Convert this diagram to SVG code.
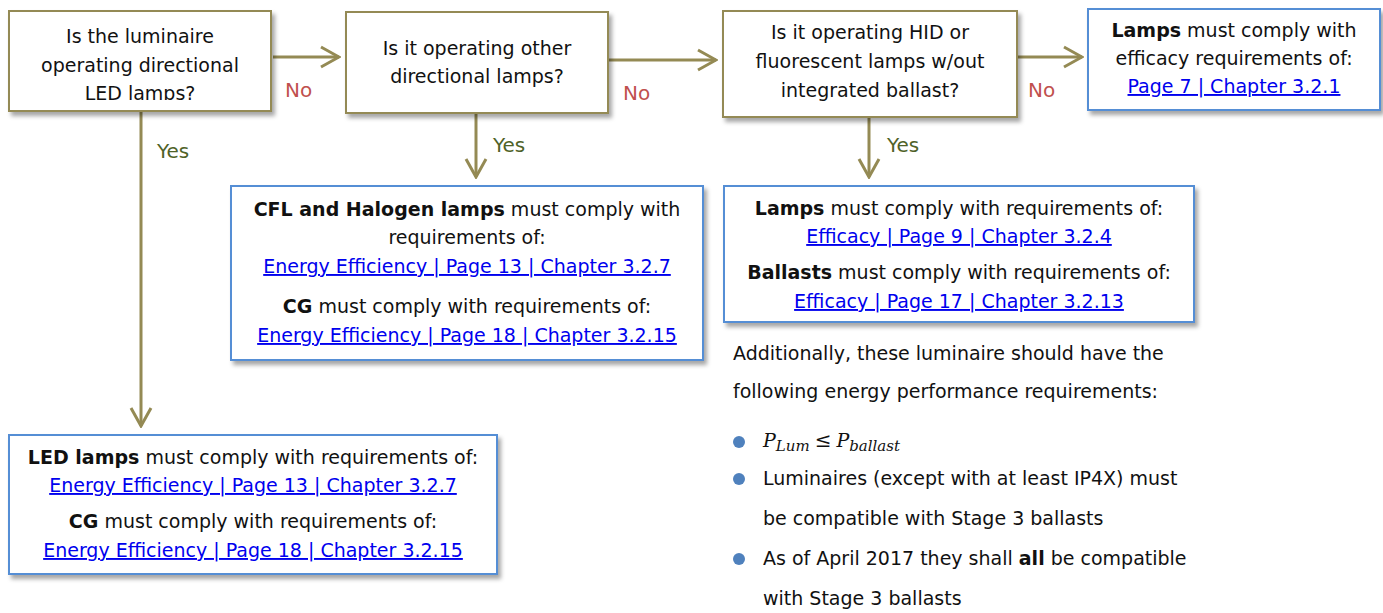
<svg xmlns="http://www.w3.org/2000/svg" width="1383" height="613" viewBox="0 0 1383 613">
  <style>
    text { font-family: "DejaVu Sans", "Liberation Sans", sans-serif; font-size: 19px; fill: #111; }
    .c { text-anchor: middle; }
    .b { font-weight: bold; }
    .link { fill: #0000ee; text-decoration: underline; }
    .q { fill: #fff; stroke: #948a54; stroke-width: 2; filter: url(#shadow); }
    .r { fill: #fff; stroke: #558ed5; stroke-width: 2; filter: url(#shadow); }
    .edge { fill: none; stroke: #948a54; stroke-width: 3; marker-end: url(#chev); }
    .no { fill: #c0504d; font-size: 20px; }
    .yes { fill: #4f6228; font-size: 20px; }
    .math { font-family: "DejaVu Serif", "Liberation Serif", serif; font-style: italic; }
  </style>
  <defs>
    <filter id="shadow" x="-5%" y="-10%" width="115%" height="130%">
      <feDropShadow dx="3" dy="4" stdDeviation="2" flood-color="#000" flood-opacity="0.35"/>
    </filter>
    <marker id="chev" viewBox="-21 -12 23 24" refX="0" refY="0" markerWidth="23" markerHeight="24" markerUnits="userSpaceOnUse" orient="auto">
      <path d="M-18,-10 L0,0 L-18,10" fill="none" stroke="#948a54" stroke-width="3"/>
    </marker>
    <clipPath id="clip1">
      <rect x="9" y="11" width="262" height="89"/>
    </clipPath>
  </defs>

  <!-- connectors -->
  <g id="connectors">
    <path class="edge" d="M273,57 H339"/>
    <path class="edge" d="M608,60 H716"/>
    <path class="edge" d="M1017,57 H1082"/>
    <path class="edge" d="M141,111 V426"/>
    <path class="edge" d="M476,113 V177"/>
    <path class="edge" d="M869,117 V177"/>
    <text class="no" x="285" y="97">No</text>
    <text class="no" x="623" y="100">No</text>
    <text class="no" x="1028" y="97">No</text>
    <text class="yes" x="157" y="158">Yes</text>
    <text class="yes" x="493" y="152">Yes</text>
    <text class="yes" x="887" y="152">Yes</text>
  </g>

  <!-- decision: directional LED -->
  <g id="q-led">
    <rect class="q" x="9" y="11" width="262" height="100"/>
    <g clip-path="url(#clip1)">
      <text class="c" x="140" y="43">Is the luminaire</text>
      <text class="c" x="140" y="72">operating directional</text>
      <text class="c" x="140" y="100">LED lamps?</text>
    </g>
  </g>

  <!-- decision: other directional -->
  <g id="q-other">
    <rect class="q" x="346" y="12" width="262" height="101"/>
    <text class="c" x="477" y="55">Is it operating other</text>
    <text class="c" x="477" y="83">directional lamps?</text>
  </g>

  <!-- decision: HID / fluorescent -->
  <g id="q-hid">
    <rect class="q" x="723" y="11" width="294" height="106"/>
    <text class="c" x="870" y="39">Is it operating HID or</text>
    <text class="c" x="870" y="68">fluorescent lamps w/out</text>
    <text class="c" x="870" y="97">integrated ballast?</text>
  </g>

  <!-- result: lamps efficacy -->
  <g id="r-lamps">
    <rect class="r" x="1088" y="9" width="292" height="101"/>
    <text class="c" x="1234" y="37"><tspan class="b">Lamps</tspan> must comply with</text>
    <text class="c" x="1234" y="65">efficacy requirements of:</text>
    <text class="c link" x="1234" y="93">Page 7 | Chapter 3.2.1</text>
  </g>

  <!-- result: CFL and halogen -->
  <g id="r-cfl">
    <rect class="r" x="231" y="186" width="472" height="174"/>
    <text class="c" x="467" y="216"><tspan class="b">CFL and Halogen lamps</tspan> must comply with</text>
    <text class="c" x="467" y="244">requirements of:</text>
    <text class="c link" x="467" y="273">Energy Efficiency | Page 13 | Chapter 3.2.7</text>
    <text class="c" x="467" y="313"><tspan class="b">CG</tspan> must comply with requirements of:</text>
    <text class="c link" x="467" y="342">Energy Efficiency | Page 18 | Chapter 3.2.15</text>
  </g>

  <!-- result: HID / fluorescent lamps and ballasts -->
  <g id="r-hid">
    <rect class="r" x="724" y="186" width="470" height="136"/>
    <text class="c" x="959" y="215"><tspan class="b">Lamps</tspan> must comply with requirements of:</text>
    <text class="c link" x="959" y="243">Efficacy | Page 9 | Chapter 3.2.4</text>
    <text class="c" x="959" y="279"><tspan class="b">Ballasts</tspan> must comply with requirements of:</text>
    <text class="c link" x="959" y="308">Efficacy | Page 17 | Chapter 3.2.13</text>
  </g>

  <!-- result: LED lamps -->
  <g id="r-led">
    <rect class="r" x="9" y="435" width="488" height="139"/>
    <text class="c" x="253" y="464"><tspan class="b">LED lamps</tspan> must comply with requirements of:</text>
    <text class="c link" x="253" y="492">Energy Efficiency | Page 13 | Chapter 3.2.7</text>
    <text class="c" x="253" y="528"><tspan class="b">CG</tspan> must comply with requirements of:</text>
    <text class="c link" x="253" y="557">Energy Efficiency | Page 18 | Chapter 3.2.15</text>
  </g>

  <!-- additional requirements note -->
  <g id="note">
    <text x="733" y="360">Additionally, these luminaire should have the</text>
    <text x="733" y="398">following energy performance requirements:</text>
    <g fill="#4f81bd">
      <circle cx="739" cy="442" r="6"/>
      <circle cx="739" cy="479" r="6"/>
      <circle cx="739" cy="559" r="6"/>
    </g>
    <text class="math" x="763" y="447" font-size="21">P<tspan font-size="15" dy="4">Lum</tspan><tspan font-style="normal" font-size="20" dy="-4" dx="5">≤</tspan><tspan dx="5">P</tspan><tspan font-size="15" dy="4">ballast</tspan></text>
    <text x="763" y="485">Luminaires (except with at least IP4X) must</text>
    <text x="763" y="525">be compatible with Stage 3 ballasts</text>
    <text x="763" y="565">As of April 2017 they shall <tspan class="b">all</tspan> be compatible</text>
    <text x="763" y="605">with Stage 3 ballasts</text>
  </g>
</svg>
